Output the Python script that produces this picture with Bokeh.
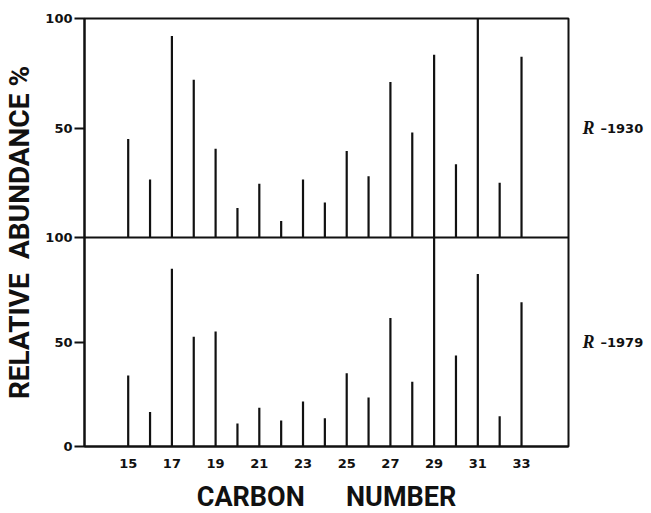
from bokeh.plotting import figure
from bokeh.models import Range1d, LinearAxis, FixedTicker, Span
from bokeh.embed import file_html
from bokeh.resources import INLINE

# ---- data ----
carbon = list(range(15, 34))
r1930 = [45, 26.5, 92, 72, 40.5, 13.5, 24.5, 7.5, 26.5, 16, 39.5, 28, 71, 48, 83.5, 33.5, 100, 25, 82.5]
r1979 = [34, 16.5, 85, 52.5, 55, 11, 18.5, 12.5, 21.5, 13.5, 35, 23.5, 61.5, 31, 100, 43.5, 82.5, 14.5, 69]
x_ticks = [15, 17, 19, 21, 23, 25, 27, 29, 31, 33]
y_ticks = [0, 50, 100]
sample_top = "–1930"
sample_bottom = "–1979"
sample_prefix = "R"
y_title = "RELATIVE\u2002ABUNDANCE %"
x_title = "CARBON\u2003\u2002NUMBER"

# ---- layout constants ----
BL, BT = 83, 18
FRAME_W, FRAME_H = 484, 428
BOTTOM_PX = 209
TOP_PX = FRAME_H - BOTTOM_PX
X0, X1 = 13, 35.15
main_end = 100 * FRAME_H / BOTTOM_PX
top_start = -100 * BOTTOM_PX / TOP_PX
INK = "#111111"
TITLE_FONT = "Roboto"


def top_to_main(v):
    return 100 + v * (main_end - 100) / 100


p = figure(frame_width=FRAME_W, frame_height=FRAME_H,
           x_range=Range1d(X0, X1), y_range=Range1d(0, main_end),
           x_axis_type=None, y_axis_type=None, output_backend="svg", toolbar_location=None,
           min_border_left=BL, min_border_right=0, min_border_top=BT, min_border_bottom=0)
p.extra_y_ranges = {"top": Range1d(top_start, 100)}
p.outline_line_color = INK
p.outline_line_width = 2
p.outline_line_alpha = 1

# bars
p.segment(x0=carbon, y0=0, x1=carbon, y1=r1979, line_width=2.2, line_color=INK)
p.segment(x0=carbon, y0=0, x1=carbon, y1=r1930, line_width=2.2, line_color=INK,
          y_range_name="top")

# divider between the two panels
p.add_layout(Span(location=100, dimension="width", line_width=2, line_color=INK))

# left axis
tick_vals = y_ticks + [top_to_main(v) for v in y_ticks if v > 0]
overrides = {top_to_main(v): str(v) for v in y_ticks if v > 0}
yax = LinearAxis(ticker=FixedTicker(ticks=tick_vals), major_label_overrides=overrides,
                 axis_label=y_title)
yax.axis_line_width = 2
yax.axis_line_color = INK
yax.major_tick_out = 10
yax.major_tick_in = 0
yax.major_tick_line_width = 2
yax.major_tick_line_color = INK
yax.minor_tick_line_color = None
yax.major_label_standoff = 2
yax.major_label_text_font = "DejaVu Sans"
yax.major_label_text_font_style = "bold"
yax.major_label_text_font_size = "13px"
yax.major_label_text_color = INK
yax.axis_label_standoff = 6
yax.axis_label_text_font = TITLE_FONT
yax.axis_label_text_font_style = "bold"
yax.axis_label_text_font_size = "28px"
yax.axis_label_text_color = INK
p.add_layout(yax, "left")

# bottom axis
xax = LinearAxis(ticker=FixedTicker(ticks=x_ticks), axis_label=x_title)
xax.axis_line_width = 2
xax.axis_line_color = INK
xax.major_tick_line_color = None
xax.major_tick_out = 0
xax.major_tick_in = 0
xax.minor_tick_line_color = None
xax.major_label_standoff = 12
xax.major_label_text_font = "DejaVu Sans"
xax.major_label_text_font_style = "bold"
xax.major_label_text_font_size = "13px"
xax.major_label_text_color = INK
xax.axis_label_standoff = 10
xax.axis_label_text_font = TITLE_FONT
xax.axis_label_text_font_style = "bold"
xax.axis_label_text_font_size = "27px"
xax.axis_label_text_color = INK
p.add_layout(xax, "below")

# right-hand sample labels, as two label-only axes ("R" then "–1930")
sample_pos = [top_to_main(50), 50]


def label_axis(texts, font, style, size, standoff):
    ax = LinearAxis(ticker=FixedTicker(ticks=sample_pos),
                    major_label_overrides=dict(zip(sample_pos, texts)))
    ax.axis_line_color = None
    ax.major_tick_line_color = None
    ax.minor_tick_line_color = None
    ax.major_tick_out = 0
    ax.major_tick_in = 0
    ax.major_label_standoff = standoff
    ax.major_label_text_font = font
    ax.major_label_text_font_style = style
    ax.major_label_text_font_size = size
    ax.major_label_text_color = INK
    return ax


p.add_layout(label_axis([sample_prefix, sample_prefix], "Liberation Serif", "bold italic", "18px", 14), "right")
p.add_layout(label_axis([sample_top, sample_bottom], "DejaVu Sans", "bold", "13px", 3), "right")

open("out.html", "w").write(file_html(p, INLINE))
